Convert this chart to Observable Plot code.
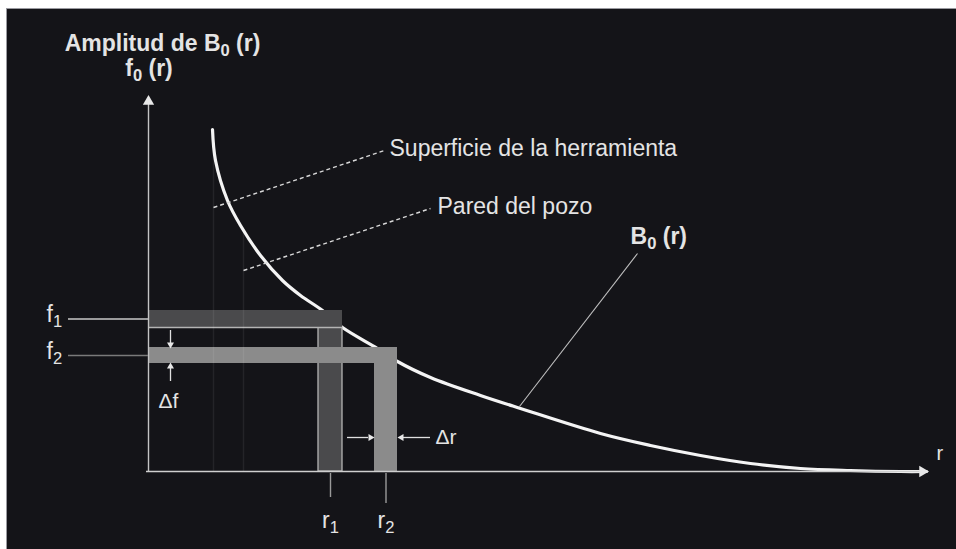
<!DOCTYPE html>
<html>
<head>
<meta charset="utf-8">
<script src="https://cdn.jsdelivr.net/npm/d3@7"></script>
<script src="https://cdn.jsdelivr.net/npm/@observablehq/plot@0.6"></script>
<style>
  html, body { margin: 0; padding: 0; background: #ffffff; }
</style>
</head>
<body>
<div id="chart"></div>
<script>
// Amplitude B0(r) of the field against the radial distance r
// (r measured from the f-axis, f measured up from the r-axis).
const curveR = [64, 67, 79, 92, 112, 134, 152, 174, 194, 229, 249, 282, 332, 372, 452, 502, 552, 602, 652, 702, 752, 778];
const curveF = [342, 311, 271, 246, 216, 191, 176, 161, 144, 123, 110, 94, 76, 63, 38, 26, 16, 8, 3, 1, 0, 0];

// Two sample radii r1, r2 (each a band Δr wide) and their amplitudes f1, f2 (each a band Δf tall)
const bandNames = ["1", "2"];
const rLow = [170, 226];
const rHigh = [194, 249];
const fLow = [144, 108];
const fHigh = [161, 124];
const bandShade = ["#4a4a4c", "#8b8b8b"];

// Radii of the tool surface and of the borehole wall
const toolR = 65;
const wallR = 95;

// Texts
const axisTitles = ["Amplitud de B_0 (r)", "f_0 (r)", "r"];
const noteTexts = ["Superficie de la herramienta", "Pared del pozo", "B_0 (r)"];
const deltaTexts = ["Δf", "Δr"];

const curve = curveR.map((r, i) => ({r, f: curveF[i]}));
const bands = bandNames.map((name, i) => ({
  name, r0: rLow[i], r1: rHigh[i], f0: fLow[i], f1: fHigh[i],
  rc: (rLow[i] + rHigh[i]) / 2, fc: (fLow[i] + fHigh[i]) / 2, shade: bandShade[i]
}));

const font = "'Liberation Sans', Arial, Helvetica, sans-serif";
const ink = "#e4e4e4";

function label(text, x, y, opts = {}) {
  return Plot.text([text], {
    x: () => x, y: () => y, text: d => d,
    fill: ink, fontSize: 23, textAnchor: "start", ...opts
  });
}

function arrowHead(x, y, rotate, r) {
  return Plot.dot([0], {x: () => x, y: () => y, symbol: "triangle", r, rotate, fill: "#e8e8e8", stroke: "none"});
}

const chart = Plot.plot({
  width: 956,
  height: 549,
  marginLeft: 6,
  marginTop: 8,
  marginRight: 0,
  marginBottom: 0,
  x: {domain: [-142, 808], axis: null},
  y: {domain: [-78, 463], axis: null},
  color: {type: "identity"},
  style: {background: "#ffffff", fontFamily: font},
  marks: [
    Plot.frame({fill: "#141418", stroke: "#9a9aa0", strokeWidth: 1}),

    // B0(r)
    Plot.line(curve, {x: "r", y: "f", curve: "catmull-rom", stroke: "#f4f4f4", strokeWidth: 3.2}),

    // sample bands
    Plot.rect(bands.slice(0, 1), {x1: "r0", x2: "r1", y1: () => 0, y2: "f0", fill: "shade", stroke: "#b4b4b4", strokeWidth: 1.3}),
    Plot.rect(bands.slice(0, 1), {x1: () => 0, x2: "r1", y1: "f0", y2: "f1", fill: "shade"}),
    Plot.ruleY(bands.slice(0, 1), {y: "f0", x1: () => 0, x2: "r1", stroke: "#b4b4b4", strokeWidth: 1.5}),
    Plot.rect(bands.slice(1), {x1: () => 0, x2: "r1", y1: "f0", y2: "f1", fill: "shade"}),
    Plot.rect(bands.slice(1), {x1: "r0", x2: "r1", y1: () => 0, y2: "f0", fill: "shade"}),

    // tool surface and borehole wall
    Plot.ruleX([toolR, wallR], {y1: () => 0, y2: [340, 240], stroke: "#ffffff", strokeOpacity: 0.07, strokeWidth: 1.5}),

    // axes
    Plot.ruleX([0], {y1: () => 0, y2: () => 370, stroke: "#c4c4c4", strokeWidth: 1.4}),
    Plot.ruleY([0], {x1: () => -2, x2: () => 772, stroke: "#cfcfcf", strokeWidth: 1.6}),
    arrowHead(0, 370, 0, 4.2),
    arrowHead(774, 0, 90, 4.2),

    // f1, f2 leaders and r1, r2 ticks
    Plot.ruleY(bands, {y: "fc", x1: () => -80, x2: () => 0, stroke: (d, i) => i === 0 ? "#c8c8c8" : "#7a7a7a", strokeWidth: 1.5}),
    Plot.ruleX(bands, {x: "rc", y1: () => -2, y2: (d, i) => i === 0 ? -26 : -32, stroke: "#9a9a9a", strokeWidth: 1.4}),

    // Δf dimension arrows
    Plot.ruleX([22], {y1: () => 141, y2: () => 128, stroke: "#e0e0e0", strokeWidth: 1.3}),
    arrowHead(22, 127, 180, 2.6),
    Plot.ruleX([22], {y1: () => 90, y2: () => 104, stroke: "#e0e0e0", strokeWidth: 1.3}),
    arrowHead(22, 105, 0, 2.6),

    // Δr dimension arrows
    Plot.ruleY([34], {x1: () => 199, x2: () => 220, stroke: "#e0e0e0", strokeWidth: 1.3}),
    arrowHead(222, 34, 90, 2.6),
    Plot.ruleY([34], {x1: () => 282, x2: () => 255, stroke: "#e0e0e0", strokeWidth: 1.3}),
    arrowHead(253, 34, -90, 2.6),

    // callout leaders
    Plot.link([0], {x1: () => toolR, y1: () => 264, x2: () => 236, y2: () => 321, stroke: "#d8d8d8", strokeWidth: 1.4, strokeDasharray: "4,3"}),
    Plot.link([0], {x1: () => wallR, y1: () => 201, x2: () => 282, y2: () => 263, stroke: "#d8d8d8", strokeWidth: 1.4, strokeDasharray: "4,3"}),
    Plot.link([0], {x1: () => 371, y1: () => 65, x2: () => 489, y2: () => 218, stroke: "#c0c0c0", strokeWidth: 1.1}),

    // texts
    label(axisTitles[0], 14, 428, {textAnchor: "middle", fontWeight: "bold"}),
    label(axisTitles[1], 0.5, 403, {textAnchor: "middle", fontWeight: "bold"}),
    label(axisTitles[2], 788, 18, {fontSize: 20}),
    label(noteTexts[0], 241, 323),
    label(noteTexts[1], 289, 265),
    label(noteTexts[2], 482, 235, {fontWeight: "bold"}),
    label(deltaTexts[0], 20, 70, {textAnchor: "middle", fontSize: 21}),
    label(deltaTexts[1], 287, 34, {fontSize: 21}),
    Plot.text(bands, {x: () => -102, y: "fc", dy: -4, text: d => "f_" + d.name, fill: ink, fontSize: 23, textAnchor: "start"}),
    Plot.text(bands, {x: "rc", y: () => -49, text: d => "r_" + d.name, fill: ink, fontSize: 23, textAnchor: "middle"})
  ]
});

// Render "_x" as a subscript x
chart.querySelectorAll("text").forEach(t => {
  const s = t.textContent;
  if (!s.includes("_")) return;
  t.textContent = "";
  s.split(/(_\w)/).forEach(part => {
    if (!part) return;
    const ts = document.createElementNS("http://www.w3.org/2000/svg", "tspan");
    if (part[0] === "_") {
      ts.textContent = part.slice(1);
      ts.setAttribute("font-size", "72%");
      ts.setAttribute("baseline-shift", "-32%");
    } else {
      ts.textContent = part;
    }
    t.appendChild(ts);
  });
});

document.getElementById("chart").appendChild(chart);
</script>
</body>
</html>
